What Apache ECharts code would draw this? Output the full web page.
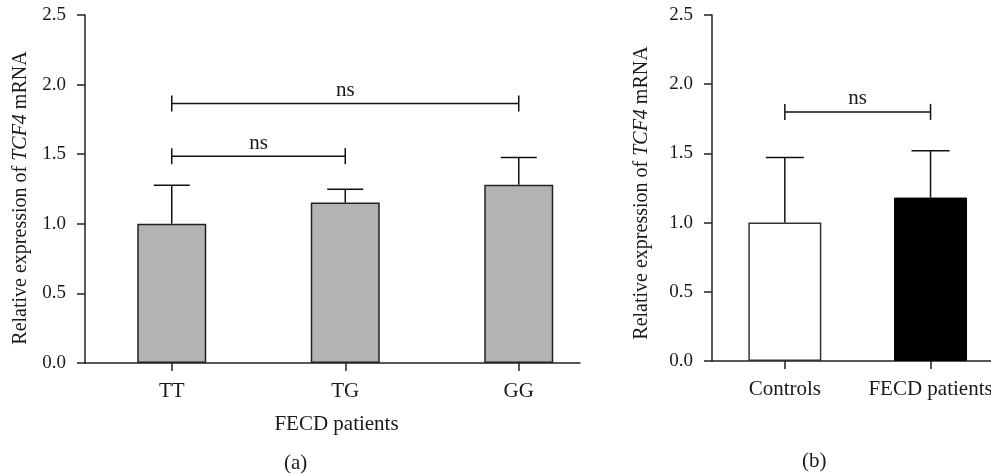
<!DOCTYPE html>
<html>
<head>
<meta charset="utf-8">
<script src="https://cdn.jsdelivr.net/npm/echarts@6/dist/echarts.min.js"></script>
<style>
  html, body { margin: 0; padding: 0; background: #fff; }
  #chart { width: 991px; height: 475px; }
</style>
</head>
<body>
<div id="chart"></div>
<script>
// panel (a): genotypes of FECD patients
const catA = ['TT', 'TG', 'GG'];
const meanA = [1.0, 1.153, 1.28];
const upperA = [1.277, 1.249, 1.476];
// brackets: [from category, to category, level]
const bracketsA = [[0, 1, 1.486], [0, 2, 1.864]];

// panel (b): controls vs patients
const catB = ['Controls', 'FECD patients'];
const meanB = [1.0, 1.181];
const upperB = [1.47, 1.52];
const bracketsB = [[0, 1, 1.80]];

const sigText = 'ns';
const yMin = 0, yMax = 2.5, yStep = 0.5;
const yName = 'Relative expression of {i|TCF4} mRNA';

const FONT = "'Liberation Serif', 'DejaVu Serif', serif";
const INK = '#1a1a1a';
const AX = '#222';

const chart = echarts.init(document.getElementById('chart'));

// x axes are value axes (category i sits at i + 0.5) so each line can stop
// where the original does: short of the last band on (a), cut at the edge on (b)
const posA = catA.map((c, i) => i + 0.5);
const posB = catB.map((c, i) => i + 0.5);
const xMaxA = 2.853;
const xMaxB = 1.915;

function yAxisCfg(grid, gap, pad) {
  return {
    type: 'value', gridIndex: grid, min: yMin, max: yMax, interval: yStep,
    name: yName, nameLocation: 'middle', nameGap: gap,
    nameTextStyle: {
      fontFamily: FONT, fontSize: 20, color: INK, padding: [0, pad, 0, 0],
      rich: { i: { fontFamily: FONT, fontSize: 20, color: INK, fontStyle: 'italic' } }
    },
    axisLine: { show: true, lineStyle: { color: AX, width: 1.5 } },
    axisTick: { show: true, length: 8, lineStyle: { color: AX, width: 1.5 } },
    axisLabel: { fontFamily: FONT, fontSize: 19, color: INK, margin: 19,
      formatter: v => v.toFixed(1) },
    splitLine: { show: false }
  };
}

function xAxisCfg(grid, max, pos, cats, extra) {
  return Object.assign({
    type: 'value', gridIndex: grid, min: 0, max: max,
    axisLine: { show: true, onZero: false, lineStyle: { color: AX, width: 1.5 } },
    axisTick: { show: true, length: 8, customValues: pos, lineStyle: { color: AX, width: 1.5 } },
    axisLabel: { customValues: pos, fontFamily: FONT, fontSize: 21, color: INK, margin: 18,
      hideOverlap: false, formatter: v => cats[Math.round(v - 0.5)] },
    splitLine: { show: false }
  }, extra);
}

function errRender(half) {
  return function (params, api) {
    const b = api.coord([api.value(0), api.value(1)]);
    const t = api.coord([api.value(0), api.value(2)]);
    const st = { stroke: '#111', lineWidth: 1.5 };
    return { type: 'group', children: [
      { type: 'line', shape: { x1: b[0], y1: b[1], x2: t[0], y2: t[1] }, style: st },
      { type: 'line', shape: { x1: t[0] - half, y1: t[1], x2: t[0] + half, y2: t[1] }, style: st }
    ] };
  };
}

function bracketRender(params, api) {
  const p1 = api.coord([api.value(0), api.value(2)]);
  const p2 = api.coord([api.value(1), api.value(2)]);
  const st = { stroke: '#111', lineWidth: 1.5 };
  return { type: 'group', children: [
    { type: 'line', shape: { x1: p1[0], y1: p1[1], x2: p2[0], y2: p2[1] }, style: st },
    { type: 'line', shape: { x1: p1[0], y1: p1[1] - 8, x2: p1[0], y2: p1[1] + 8 }, style: st },
    { type: 'line', shape: { x1: p2[0], y1: p2[1] - 8, x2: p2[0], y2: p2[1] + 8 }, style: st },
    { type: 'text', style: { text: sigText, x: (p1[0] + p2[0]) / 2, y: p1[1] - 13,
      align: 'center', verticalAlign: 'middle', font: '21px ' + FONT, fill: INK } }
  ] };
}

const option = {
  animation: false,
  grid: [
    { left: 85, top: 15, width: 495, height: 348, outerBoundsMode: 'none' },
    { left: 712, top: 15, width: 279, height: 346, outerBoundsMode: 'none' }
  ],
  xAxis: [
    xAxisCfg(0, xMaxA, posA, catA, {
      name: 'FECD patients', nameLocation: 'middle', nameGap: 51,
      nameTextStyle: { fontFamily: FONT, fontSize: 21, color: INK, padding: [0, 0, 0, 8] }
    }),
    xAxisCfg(1, xMaxB, posB, catB, {})
  ],
  yAxis: [yAxisCfg(0, 54, 18), yAxisCfg(1, 60, 10)],
  series: [
    {
      type: 'bar', xAxisIndex: 0, yAxisIndex: 0, barWidth: 69,
      data: meanA.map((v, i) => [posA[i], v]),
      itemStyle: { color: '#b3b3b3', borderColor: '#222', borderWidth: 1.5 }
    },
    {
      type: 'custom', xAxisIndex: 0, yAxisIndex: 0, renderItem: errRender(18),
      data: meanA.map((v, i) => [posA[i], v, upperA[i]]), z: 3
    },
    {
      type: 'custom', xAxisIndex: 0, yAxisIndex: 0, renderItem: bracketRender,
      data: bracketsA.map(b => [posA[b[0]], posA[b[1]], b[2]]), z: 3
    },
    {
      type: 'bar', xAxisIndex: 1, yAxisIndex: 1, barWidth: 73,
      data: meanB.map((v, i) => ({
        value: [posB[i], v],
        itemStyle: i === 0
          ? { color: '#fff', borderColor: '#333', borderWidth: 1.5 }
          : { color: '#000', borderColor: '#000', borderWidth: 1 }
      }))
    },
    {
      type: 'custom', xAxisIndex: 1, yAxisIndex: 1, renderItem: errRender(19),
      data: meanB.map((v, i) => [posB[i], v, upperB[i]]), z: 3
    },
    {
      type: 'custom', xAxisIndex: 1, yAxisIndex: 1, renderItem: bracketRender,
      data: bracketsB.map(b => [posB[b[0]], posB[b[1]], b[2]]), z: 3
    }
  ],
  graphic: [
    { type: 'text', left: 284, top: 453, style: { text: '(a)', font: '21px ' + FONT, fill: INK } },
    { type: 'text', left: 802, top: 451, style: { text: '(b)', font: '21px ' + FONT, fill: INK } }
  ]
};

chart.setOption(option);
</script>
</body>
</html>
